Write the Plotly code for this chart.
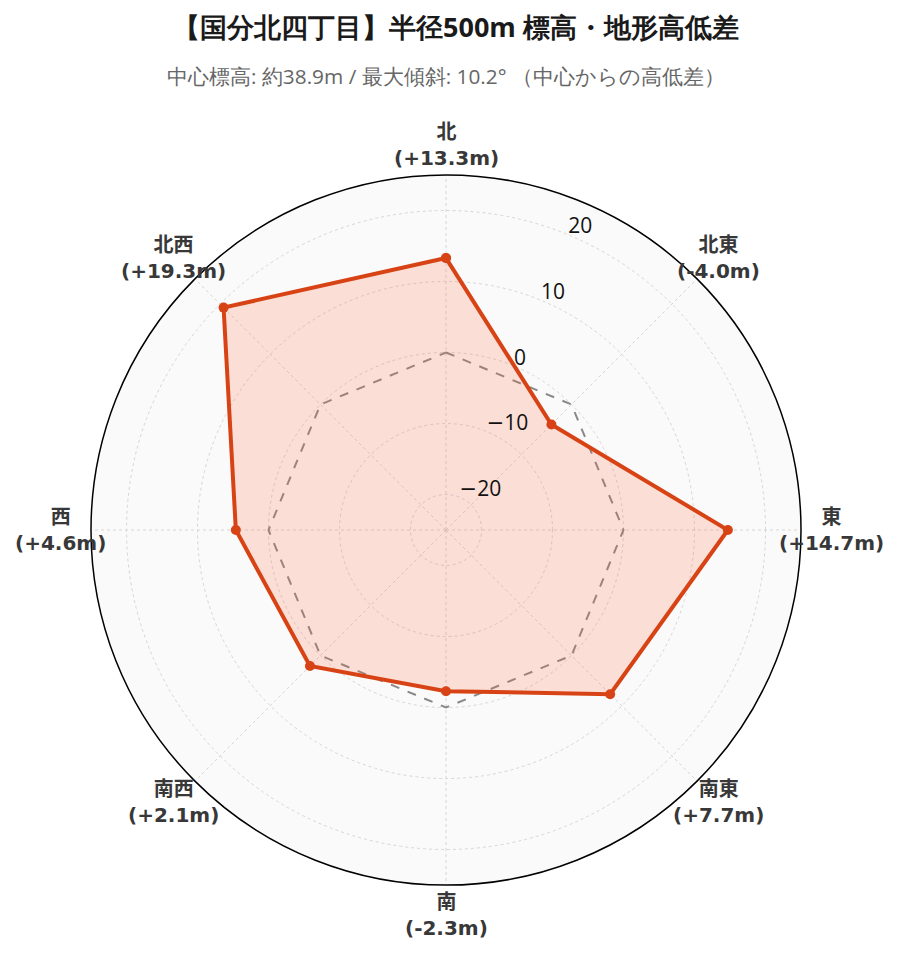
import math
import plotly.graph_objects as go

directions = ["北", "北東", "東", "南東", "南", "南西", "西", "北西"]
diffs = [13.3, -4.0, 14.7, 7.7, -2.3, 2.1, 4.6, 19.3]
baseline = [0, 0, 0, 0, 0, 0, 0, 0]
radial_ticks = [-20, -10, 0, 10, 20]

title_text = "【国分北四丁目】半径500m 標高・地形高低差"
subtitle_text = "中心標高: 約38.9m / 最大傾斜: 10.2° （中心からの高低差）"

FONT = "Open Sans, verdana, arial, sans-serif"
LABEL_FONT = "DejaVu Sans, Noto Sans CJK JP, sans-serif"
R_MIN, R_MAX = -25, 25
STEP = 360 / len(directions)
angles = [i * STEP for i in range(len(directions))]   # compass bearing of each direction
TICK_THETA = STEP / 2                                   # radial tick labels between 北 and 北東
LABEL_K = 385 / 710                                     # label ring radius in paper units

label_texts = [f"<b>{d}</b><br><b>({v:+.1f}m)</b>" for d, v in zip(directions, diffs)]


def tick_text(v):
    s = f"{v}".replace("-", "<span style='font-family:DejaVu Sans'>\u2212</span>")
    return f"<span style='font-size:21px'>{s}</span>"


W, H = 900, 962
M = dict(l=83, r=107, t=167, b=85)

fig = go.Figure()
fig.add_trace(go.Scatterpolar(
    r=baseline + baseline[:1], theta=angles + angles[:1], mode="lines",
    line=dict(color="#888888", width=2, dash="dash"),
    hoverinfo="skip", showlegend=False,
))
fig.add_trace(go.Scatterpolar(
    r=diffs + diffs[:1], theta=angles + angles[:1], mode="lines+markers",
    line=dict(color="#D84315", width=4),
    marker=dict(color="#D84315", size=10),
    fill="toself", fillcolor="rgba(255,112,67,0.2)",
    showlegend=False,
))
fig.add_trace(go.Scatterpolar(
    r=radial_ticks, theta=[TICK_THETA] * len(radial_ticks), mode="text",
    text=[tick_text(t) for t in radial_ticks],
    textposition="top right",
    textfont=dict(family=FONT, size=6, color="#111111"),
    hoverinfo="skip", showlegend=False,
))

annotations = []
for a, txt in zip(angles, label_texts):
    rad = math.radians(a)
    annotations.append(dict(
        text=txt, xref="paper", yref="paper",
        x=0.5 + LABEL_K * math.sin(rad), y=0.5 + LABEL_K * math.cos(rad),
        xanchor="center", yanchor="middle", align="center", showarrow=False,
        font=dict(family=LABEL_FONT, size=20, color="#383838"),
    ))

sub_y = (H - 68 - M["b"]) / (H - M["t"] - M["b"])
annotations.append(dict(
    text=subtitle_text, x=0.4995, xref="paper", y=sub_y, yref="paper",
    xanchor="center", yanchor="middle", showarrow=False,
    font=dict(size=20.8, color="#666666"),
))

fig.update_layout(
    width=W, height=H,
    paper_bgcolor="white",
    font=dict(family=FONT, color="#333333"),
    title=dict(
        text=f"<b>{title_text}</b>",
        x=0.4977, xanchor="center", y=1 - 20 / H, yanchor="middle",
        font=dict(size=27, color="#1a1a1a"),
    ),
    annotations=annotations,
    margin=M,
    polar=dict(
        bgcolor="#fafafa",
        angularaxis=dict(
            direction="clockwise", rotation=90,
            tickmode="array", tickvals=angles, showticklabels=False,
            showline=True, linecolor="black", linewidth=1.5,
            gridcolor="#d6d6d6", griddash="dot", ticks="",
        ),
        radialaxis=dict(
            range=[R_MIN, R_MAX], tickmode="array", tickvals=radial_ticks,
            showticklabels=False, showline=False, ticks="",
            gridcolor="#d6d6d6", griddash="dot",
        ),
    ),
)

fig.write_html("out.html")
